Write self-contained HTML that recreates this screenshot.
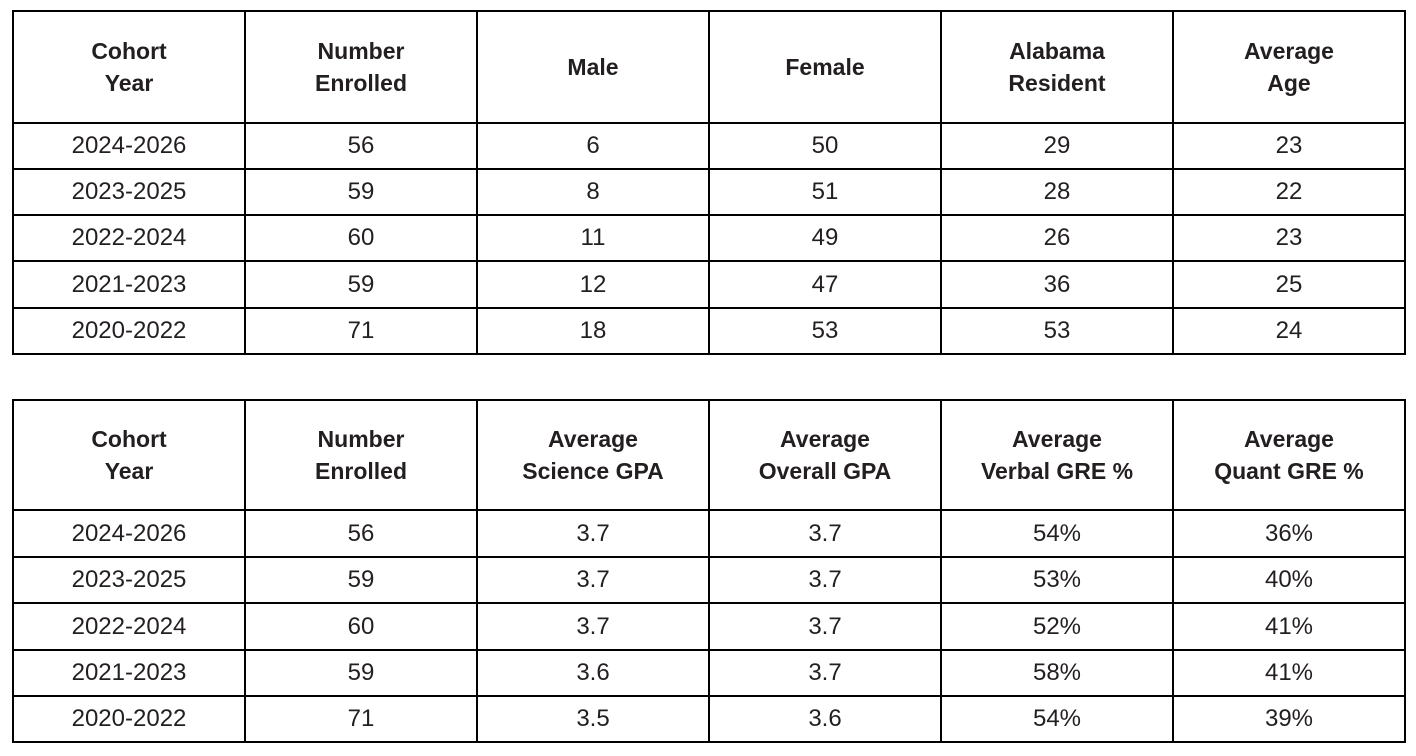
<!DOCTYPE html>
<html><head><meta charset="utf-8"><style>
html,body{margin:0;padding:0;background:#fff;width:1416px;height:756px;overflow:hidden}
table{position:absolute;left:12px;border-collapse:collapse;table-layout:fixed;font-family:"Liberation Sans",sans-serif;color:#231f20}
td,th{border:2px solid #000;text-align:center;padding:0;font-size:24px}
th{font-weight:bold;font-size:23px;line-height:32px}
col{width:232px}
</style></head><body>
<table style="top:10px;width:1392px">
<colgroup><col><col><col><col><col><col></colgroup>
<tr style="height:112px"><th>Cohort<br>Year</th><th>Number<br>Enrolled</th><th>Male</th><th>Female</th><th>Alabama<br>Resident</th><th>Average<br>Age</th></tr>
<tr style="height:46px"><td>2024-2026</td><td>56</td><td>6</td><td>50</td><td>29</td><td>23</td></tr>
<tr style="height:46px"><td>2023-2025</td><td>59</td><td>8</td><td>51</td><td>28</td><td>22</td></tr>
<tr style="height:46px"><td>2022-2024</td><td>60</td><td>11</td><td>49</td><td>26</td><td>23</td></tr>
<tr style="height:47px"><td>2021-2023</td><td>59</td><td>12</td><td>47</td><td>36</td><td>25</td></tr>
<tr style="height:46px"><td>2020-2022</td><td>71</td><td>18</td><td>53</td><td>53</td><td>24</td></tr>
</table>
<table style="top:399px;width:1392px">
<colgroup><col><col><col><col><col><col></colgroup>
<tr style="height:110px"><th>Cohort<br>Year</th><th>Number<br>Enrolled</th><th>Average<br>Science GPA</th><th>Average<br>Overall GPA</th><th>Average<br>Verbal GRE %</th><th>Average<br>Quant GRE %</th></tr>
<tr style="height:47px"><td>2024-2026</td><td>56</td><td>3.7</td><td>3.7</td><td>54%</td><td>36%</td></tr>
<tr style="height:46px"><td>2023-2025</td><td>59</td><td>3.7</td><td>3.7</td><td>53%</td><td>40%</td></tr>
<tr style="height:47px"><td>2022-2024</td><td>60</td><td>3.7</td><td>3.7</td><td>52%</td><td>41%</td></tr>
<tr style="height:46px"><td>2021-2023</td><td>59</td><td>3.6</td><td>3.7</td><td>58%</td><td>41%</td></tr>
<tr style="height:46px"><td>2020-2022</td><td>71</td><td>3.5</td><td>3.6</td><td>54%</td><td>39%</td></tr>
</table>
</body></html>
